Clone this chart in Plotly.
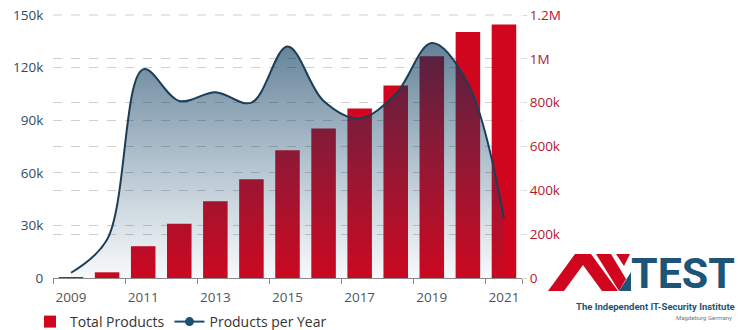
import plotly.graph_objects as go

# ---------------- data ----------------
years = [2009, 2010, 2011, 2012, 2013, 2014, 2015, 2016, 2017, 2018, 2019, 2020, 2021]
total_products = [3000, 26000, 145000, 247000, 350000, 451000, 583000, 682000,
                  773000, 878000, 1012000, 1123000, 1157000]
products_per_year = [3000, 22000, 119000, 101000, 106000, 100000, 132000, 101000,
                     91000, 105000, 134000, 111000, 34000]

left_tickvals = [0, 30000, 60000, 90000, 120000, 150000]
left_ticktext = ["0", "30k", "60k", "90k", "120k", "150k"]
right_tickvals = [0, 200000, 400000, 600000, 800000, 1000000, 1200000]
right_ticktext = ["0", "200k", "400k", "600k", "800k", "1M", "1.2M"]
year_ticks = [2009, 2011, 2013, 2015, 2017, 2019, 2021]

# ---------------- geometry (body margin removed via post_script) ----------------
W, H = 738, 330
ML, MT = 53, 15
MR = W - 522
MB = H - 278
PW, PH = W - ML - MR, H - MT - MB


def px(x):
    """page x pixel -> paper x"""
    return (x - ML) / PW


def py(y):
    """page y pixel -> paper y"""
    return (H - MB - y) / PH


def path(points):
    return "M " + " L ".join(f"{px(a):.5f},{py(b):.5f}" for a, b in points) + " Z"


RED = "#d0061e"
BLUE = "#1d5579"
FONT = "Open Sans, Noto Sans, sans-serif"

fig = go.Figure()

# bars: total products (right axis -> base axis 'y')
fig.add_trace(go.Bar(
    x=years, y=total_products, name="Total Products",
    marker=dict(color=RED, line=dict(width=0)),
    width=0.68, yaxis="y", showlegend=True,
))

# area + spline: products per year (left axis -> overlaying 'y2')
fig.add_trace(go.Scatter(
    x=years, y=products_per_year, name="Products per Year",
    mode="lines", line=dict(color="#1b3d57", width=2, shape="spline", smoothing=1.0),
    fill="tozeroy",
    fillgradient=dict(type="vertical", start=0, stop=140000,
                      colorscale=[[0, "rgba(20,70,110,0.03)"],
                                  [0.5, "rgba(10,62,100,0.33)"],
                                  [1, "rgba(0,50,85,0.64)"]]),
    yaxis="y2", showlegend=False,
))

# legend-only entry for the line with marker
fig.add_trace(go.Scatter(
    x=[None], y=[None], name="Products per Year", mode="lines+markers",
    line=dict(color="#1b4f72", width=2), marker=dict(color="#1b4f72", size=9),
    yaxis="y2", showlegend=True,
))

fig.update_layout(
    width=W, height=H,
    margin=dict(l=ML, r=MR, t=MT, b=MB, autoexpand=False),
    paper_bgcolor="white", plot_bgcolor="white",
    font=dict(family=FONT, size=13, color="#444"),
    xaxis=dict(
        range=[2008.5, 2021.5], tickvals=year_ticks,
        ticks="outside", ticklen=7, tickcolor="rgba(0,0,0,0)",
        tickfont=dict(size=13.5, color="#555"),
        showgrid=False, zeroline=False,
        showline=True, linecolor="#8a8a8a", linewidth=1,
        minor=dict(tickvals=[2008.5, 2010.5, 2012.5, 2014.5, 2016.5, 2018.5, 2020.5, 2021.5],
                   ticks="outside", ticklen=5, tickcolor="#8a8a8a", showgrid=False),
    ),
    yaxis=dict(
        side="right", range=[0, 1200000],
        tickvals=right_tickvals, ticktext=right_ticktext,
        tickfont=dict(size=13.5, color="#b3182f"),
        ticks="outside", ticklen=4, tickcolor="#d8d8d8",
        showgrid=True, gridcolor="#cfcfcf", griddash="dash", gridwidth=1,
        zeroline=False, showline=False,
    ),
    yaxis2=dict(
        side="left", overlaying="y", range=[0, 150000],
        tickvals=left_tickvals, ticktext=left_ticktext,
        tickfont=dict(size=13.5, color="#2f4c60"),
        ticks="outside", ticklen=6, tickcolor="rgba(0,0,0,0)",
        showgrid=True, gridcolor="#cfcfcf", griddash="dash", gridwidth=1,
        zeroline=False, showline=False,
    ),
    legend=dict(
        orientation="h", x=px(30), y=py(306), xanchor="left", yanchor="top",
        font=dict(size=14, color="#333"), bgcolor="rgba(0,0,0,0)",
        itemwidth=30, tracegroupgap=0,
    ),
)

# top gridline (150k / 1.2M) sits on the plot edge
fig.add_shape(type="line", xref="paper", yref="paper", x0=0, x1=1, y0=1, y1=1,
              line=dict(color="#cfcfcf", width=1, dash="dash"), layer="below")

# ---------------- AV-TEST logo ----------------
fig.add_shape(type="path", xref="paper", yref="paper", line_width=0, fillcolor=RED,
              path=path([(548, 291), (575, 254), (591, 254), (618, 291), (602, 291),
                         (583, 265), (564, 291)]))
fig.add_shape(type="path", xref="paper", yref="paper", line_width=0, fillcolor=RED,
              path=path([(596, 254), (611, 254), (626, 279), (619, 291)]))
fig.add_shape(type="path", xref="paper", yref="paper", line_width=0, fillcolor=RED,
              path=path([(616, 254), (630, 254), (624, 266)]))
fig.add_shape(type="path", xref="paper", yref="paper", line_width=0, fillcolor=BLUE,
              path=path([(619, 291), (631, 272), (631, 291)]))
fig.add_annotation(xref="paper", yref="paper", x=px(629), y=py(273), xanchor="left",
                   yanchor="middle", showarrow=False,
                   text="<b>TEST</b>",
                   font=dict(family="Roboto, sans-serif", size=43, color=BLUE))
fig.add_annotation(xref="paper", yref="paper", x=px(737), y=py(306), xanchor="right",
                   yanchor="middle", showarrow=False,
                   text="<b>The Independent IT-Security Institute</b>",
                   font=dict(family="Roboto, sans-serif", size=9.5, color=BLUE))
fig.add_annotation(xref="paper", yref="paper", x=px(734), y=py(317), xanchor="right",
                   yanchor="middle", showarrow=False,
                   text="Magdeburg Germany",
                   font=dict(family="Roboto, sans-serif", size=6, color="#777"))

fig.write_html("out.html",
               config={"displayModeBar": False},
               post_script="document.body.style.margin='0';document.body.style.overflow='hidden';")
